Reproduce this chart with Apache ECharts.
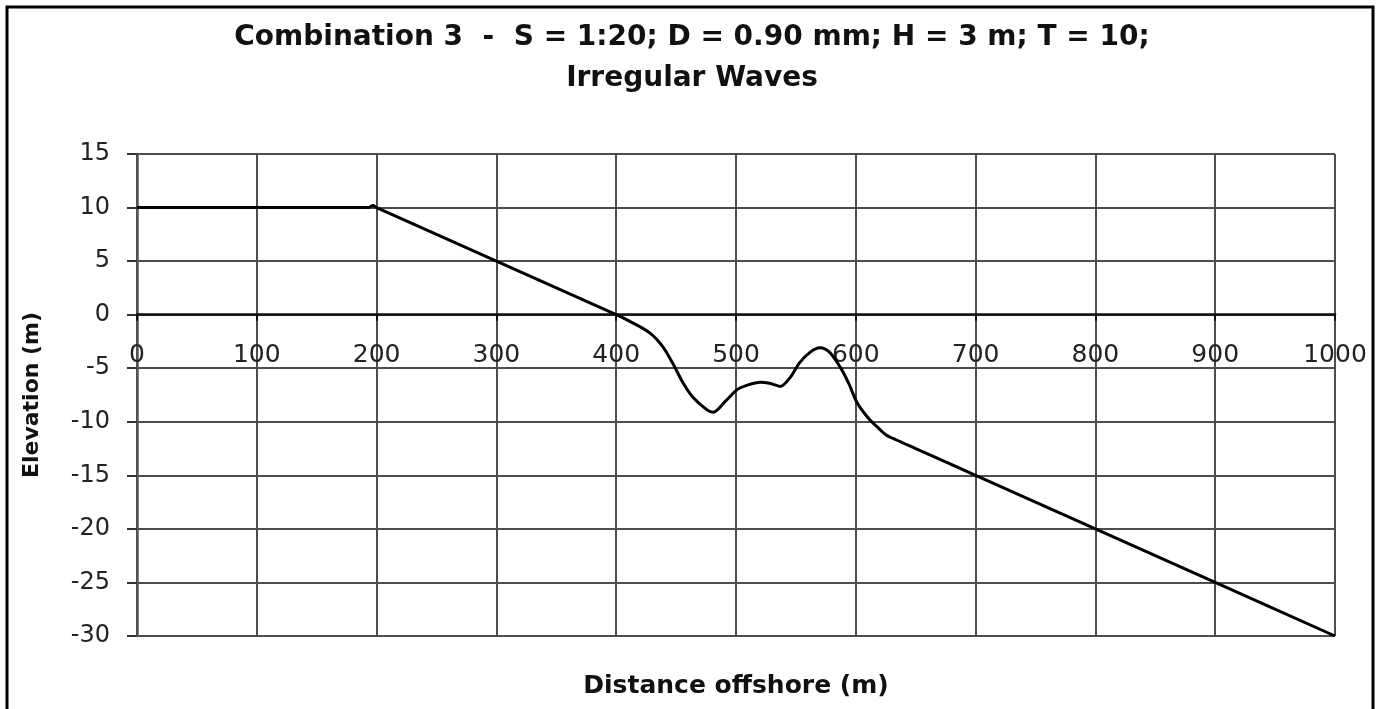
<!DOCTYPE html>
<html>
<head>
<meta charset="utf-8">
<script src="https://cdn.jsdelivr.net/npm/echarts@6/dist/echarts.min.js"></script>
<style>
html,body{margin:0;padding:0;background:#fff;}
#chart{width:1384px;height:709px;}
</style>
</head>
<body>
<div id="chart"></div>
<script>
const titleLines = ["Combination 3  -  S = 1:20; D = 0.90 mm; H = 3 m; T = 10;", "Irregular Waves"];
const xName = "Distance offshore (m)";
const yName = "Elevation (m)";
const distance = [0, 193, 197, 200, 300, 400, 411, 428, 439, 447, 456, 464, 476, 481, 491, 501, 509, 520, 528, 537, 545, 553, 562, 570, 578, 587, 594, 601, 610, 618, 625, 634, 650, 700, 800, 900, 1000];
const elevation = [10, 10, 10.2, 10, 5, 0, -0.6, -1.7, -3.0, -4.5, -6.4, -7.7, -8.9, -9.1, -8.1, -7.0, -6.6, -6.3, -6.4, -6.7, -5.9, -4.5, -3.5, -3.1, -3.5, -4.9, -6.4, -8.2, -9.6, -10.5, -11.2, -11.7, -12.5, -15, -20, -25, -30];
const xTicks = [0, 100, 200, 300, 400, 500, 600, 700, 800, 900, 1000];
const yTicks = [15, 10, 5, 0, -5, -10, -15, -20, -25, -30];

const gridTop = 154, gridBottom = 73, chartH = 709;
const yMin = yTicks[yTicks.length - 1], yMax = yTicks[0];
const plotH = chartH - gridTop - gridBottom;
// move the x axis (line, ticks, labels) up to the zero row
const zeroOffset = -plotH * (0 - yMin) / (yMax - yMin);

const chart = echarts.init(document.getElementById('chart'), null, {renderer: 'canvas'});
const gridColor = '#4d4d4d';
const font = '"DejaVu Sans", Verdana, sans-serif';
chart.setOption({
  backgroundColor: '#fff',
  animation: false,
  title: {
    text: titleLines.join('\n'),
    left: 'center',
    top: 12,
    textStyle: {fontFamily: font, fontWeight: 'bold', fontSize: 28, lineHeight: 41, color: '#111'}
  },
  graphic: [{
    type: 'rect',
    shape: {x: 7, y: 7, width: 1366, height: 730},
    style: {fill: 'none', stroke: '#000', lineWidth: 3},
    silent: true
  }, {
    type: 'text',
    x: 736, y: 686,
    style: {text: xName, fontFamily: font, fontWeight: 'bold', fontSize: 25, fill: '#111', align: 'center', verticalAlign: 'middle'},
    silent: true
  }],
  grid: {left: 137, right: 49, top: gridTop, bottom: gridBottom, containLabel: false},
  xAxis: {
    type: 'value',
    position: 'bottom',
    offset: zeroOffset,
    min: xTicks[0], max: xTicks[xTicks.length - 1], interval: 100,
    axisLine: {show: true, onZero: false, lineStyle: {color: '#111', width: 2.5}},
    axisTick: {show: true, inside: false, length: 6, lineStyle: {color: '#111', width: 2}},
    axisLabel: {fontFamily: font, fontSize: 25, color: '#222', margin: 28, formatter: v => String(v)},
    splitLine: {show: true, lineStyle: {color: gridColor, width: 2}}
  },
  yAxis: {
    type: 'value',
    min: yMin, max: yMax, interval: 5,
    axisLine: {show: true, onZero: false, lineStyle: {color: '#555', width: 2.5}},
    axisTick: {show: true, inside: false, length: 10, lineStyle: {color: '#333', width: 2}},
    axisLabel: {fontFamily: font, fontSize: 24, color: '#222', margin: 27, formatter: v => String(v)},
    splitLine: {show: true, lineStyle: {color: gridColor, width: 2}},
    name: yName,
    nameLocation: 'middle',
    nameGap: 94,
    nameRotate: 90,
    nameTextStyle: {fontFamily: font, fontWeight: 'bold', fontSize: 22, color: '#111'}
  },
  series: [{
    type: 'line',
    data: distance.map((d, i) => [d, elevation[i]]),
    showSymbol: false,
    smooth: 0.3,
    lineStyle: {color: '#000', width: 3},
    z: 5
  }]
});
</script>
</body>
</html>
